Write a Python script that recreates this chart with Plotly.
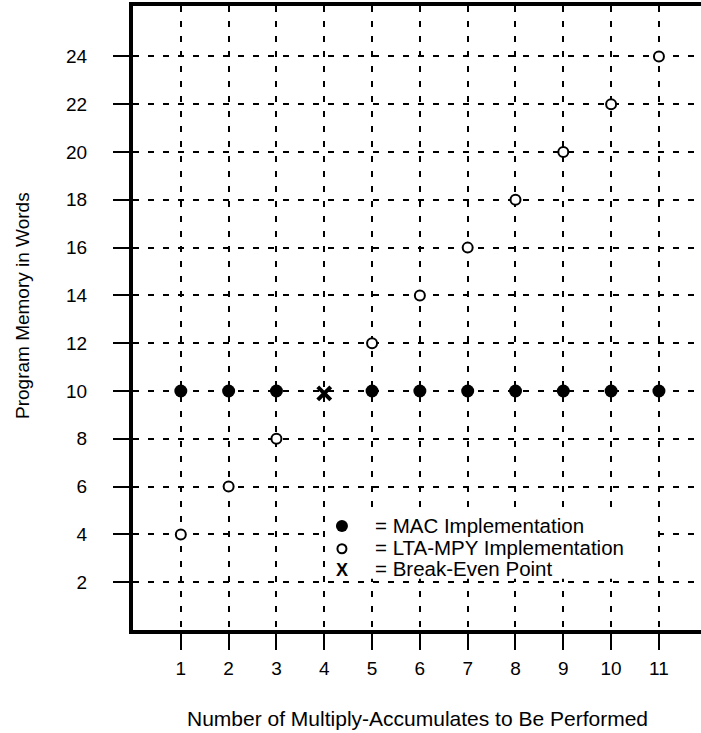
import plotly.graph_objects as go

# Data
mac_x = [1, 2, 3, 5, 6, 7, 8, 9, 10, 11]
mac_y = [10, 10, 10, 10, 10, 10, 10, 10, 10, 10]
lta_x = [1, 2, 3, 5, 6, 7, 8, 9, 10, 11]
lta_y = [4, 6, 8, 12, 14, 16, 18, 20, 22, 24]
be_x = [4]
be_y = [9.9]
x_ticks = list(range(1, 12))
y_ticks = list(range(2, 25, 2))
legend_labels = ["= MAC Implementation", "= LTA-MPY Implementation", "= Break-Even Point"]

FONT = "Liberation Sans, Arial, Helvetica, sans-serif"

fig = go.Figure()
fig.add_trace(go.Scatter(
    x=mac_x, y=mac_y, mode="markers", name=legend_labels[0], showlegend=False,
    marker=dict(symbol="circle", size=13, color="black", line=dict(width=0)),
))
fig.add_trace(go.Scatter(
    x=lta_x, y=lta_y, mode="markers", name=legend_labels[1], showlegend=False,
    marker=dict(symbol="circle", size=10, color="white", line=dict(width=2, color="black")),
))
fig.add_trace(go.Scatter(
    x=be_x, y=be_y, mode="markers", name=legend_labels[2], showlegend=False,
    marker=dict(symbol="x-thin-open", size=13, color="black", line=dict(width=4, color="black")),
))

# Hand-drawn key (legend) inside the plot
key_x = 4.37
text_x = 5.02
row_y = [4.356, 3.46, 2.57]
shapes = [
    # white box behind the key, hiding the grid
    dict(type="rect", xref="x", yref="y", x0=4.02, x1=10.92, y0=2.14, y1=4.93,
         fillcolor="white", line=dict(width=0), layer="between"),
    dict(type="circle", xref="x", yref="y", xsizemode="pixel", ysizemode="pixel",
         xanchor=key_x, yanchor=row_y[0], x0=-6, x1=6, y0=-6, y1=6,
         fillcolor="black", line=dict(width=0)),
    dict(type="circle", xref="x", yref="y", xsizemode="pixel", ysizemode="pixel",
         xanchor=key_x, yanchor=row_y[1] - 0.06, x0=-4.5, x1=4.5, y0=-4.5, y1=4.5,
         fillcolor="white", line=dict(width=2, color="black")),
]
annotations = [
    dict(x=text_x, y=yy, xref="x", yref="y", text=t, showarrow=False,
         xanchor="left", yanchor="middle", font=dict(size=20.5, family=FONT, color="black"))
    for t, yy in zip(legend_labels, row_y)
]
annotations.append(dict(x=key_x, y=row_y[2] - 0.08, xref="x", yref="y", text="<b>X</b>",
                        showarrow=False, xanchor="center", yanchor="middle",
                        font=dict(size=18, family=FONT, color="black")))
# Axis titles
annotations.append(dict(x=(22 - 133) / 568, y=(630 - 306) / 624, xref="paper", yref="paper",
                        text="Program Memory in Words", textangle=-90, showarrow=False,
                        xanchor="center", yanchor="middle",
                        font=dict(size=19, family=FONT, color="black")))
annotations.append(dict(x=0.5, y=(630 - 718) / 624, xref="paper", yref="paper",
                        text="Number of Multiply-Accumulates to Be Performed", showarrow=False,
                        xanchor="center", yanchor="middle",
                        font=dict(size=21, family=FONT, color="black")))

fig.update_layout(
    width=701, height=733,
    margin=dict(l=133, r=0, t=6, b=103),
    paper_bgcolor="white", plot_bgcolor="white",
    font=dict(family=FONT, size=19, color="black"),
    showlegend=False,
    shapes=shapes,
    annotations=annotations,
    xaxis=dict(
        range=[0, 11.88], tickvals=x_ticks, ticktext=[str(v) for v in x_ticks],
        ticks="outside", ticklen=16, tickwidth=2, tickcolor="black",
        showline=True, linewidth=4, linecolor="black", mirror=True,
        showgrid=True, gridcolor="black", gridwidth=1.6, griddash="6px,9px",
        zeroline=False, tickfont=dict(size=19), ticklabelstandoff=2,
    ),
    yaxis=dict(
        range=[0, 26.11], tickvals=y_ticks, ticktext=[str(v) for v in y_ticks],
        ticks="outside", ticklen=16, tickwidth=2, tickcolor="black",
        showline=True, linewidth=4, linecolor="black",
        showgrid=True, gridcolor="black", gridwidth=1.6, griddash="6px,9px",
        zeroline=False, tickfont=dict(size=19), ticklabelstandoff=22,
    ),
)

fig.write_html(
    "out.html",
    config={"displayModeBar": False},
    post_script="document.body.style.margin='0';document.body.style.overflow='hidden';",
)
